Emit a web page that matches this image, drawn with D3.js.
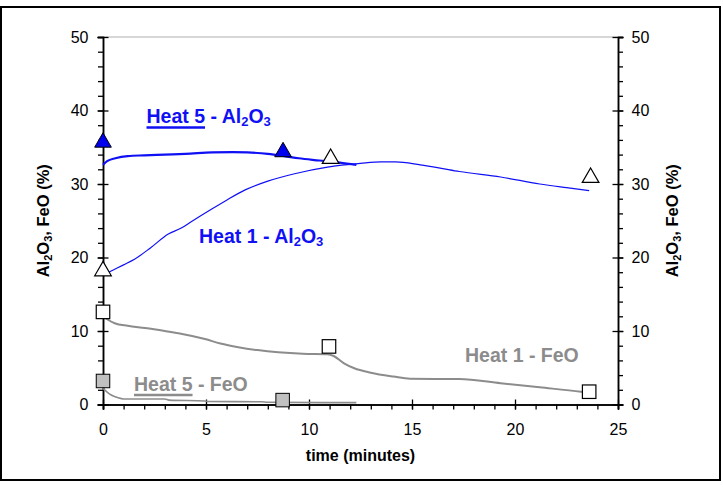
<!DOCTYPE html>
<html>
<head>
<meta charset="utf-8">
<script src="https://cdn.jsdelivr.net/npm/d3@7"></script>
<style>
  body { margin: 0; background: #fff; }
  text { font-family: "Liberation Sans", Arial, sans-serif; }
</style>
</head>
<body>
<div id="graph"></div>
<script>
// tick values
var xTicks = [0, 5, 10, 15, 20, 25];
var yTicks = [0, 10, 20, 30, 40, 50];

// measured curves [time (min), %]
var heat5Al2O3Line = [[0, 32.6], [0.2, 33.1], [0.6, 33.5], [1.2, 33.8], [2, 33.9], [3, 34.0], [4, 34.1],
  [5.3, 34.3], [6.3, 34.35], [7, 34.3], [8, 34.1], [8.8, 33.8], [9.5, 33.5], [10.5, 33.2], [11.5, 32.9], [12.3, 32.6]];
var heat1Al2O3Line = [[0, 17.6], [0.5, 18.3], [1.0, 19.0], [1.55, 19.8], [2.3, 21.3], [3.17, 23.2], [3.8, 24.0],
  [4.3, 24.9], [5.28, 26.6], [6, 27.8], [6.9, 29.2], [8, 30.4], [9.3, 31.4], [10.9, 32.3], [12.5, 32.8],
  [13.5, 33.0], [14.2, 33.0], [15.4, 32.6], [16.3, 32.2], [17.3, 31.7], [19.3, 30.95], [21.2, 30.0],
  [22.5, 29.5], [23.6, 29.1]];
var heat1FeOLine = [[0, 12.0], [0.2, 11.6], [0.57, 11.06], [1.2, 10.7], [2.04, 10.4], [3, 10.0], [3.66, 9.7],
  [4.95, 8.9], [5.7, 8.3], [6.57, 7.8], [7.5, 7.4], [8.5, 7.1], [9.7, 6.9], [10.9, 6.84], [11.2, 6.6],
  [11.7, 5.6], [12.2, 4.93], [13, 4.33], [14.1, 3.8], [14.9, 3.5], [17.3, 3.47], [19.3, 2.9], [21.2, 2.34],
  [23.2, 1.74], [23.6, 1.6]];
var heat5FeOLine = [[0, 2.2], [0.2, 1.7], [0.4, 1.3], [0.7, 0.95], [1, 0.75], [3, 0.75], [3.2, 0.6],
  [4.95, 0.48], [5.1, 0.4], [7.7, 0.38], [8, 0.3], [12.3, 0.25]];

// sample analyses
var heat5Al2O3Points = [[0, 35.8], [8.74, 34.5]];
var heat1Al2O3Points = [[0, 18.3], [11.05, 33.6], [23.67, 31.0]];
var heat1FeOPoints = [[0, 12.6], [10.97, 7.9], [23.6, 1.74]];
var heat5FeOPoints = [[0, 3.2], [8.72, 0.6]];

var w = 723, h = 487;
var blue = "#1010f5", gray = "#8c8c8c";

var vis = d3.select("#graph").append("svg")
  .attr("width", w)
  .attr("height", h);

// outer frame
vis.append("rect")
  .attr("x", 1).attr("y", 7)
  .attr("width", 719).attr("height", 473)
  .attr("fill", "none")
  .attr("stroke", "black")
  .attr("stroke-width", 2);

var x = d3.scaleLinear().domain([0, 25]).range([103, 618]);
var y = d3.scaleLinear().domain([0, 50]).range([404.5, 37]);

// top border of plot area
vis.append("line")
  .attr("x1", x(0)).attr("x2", x(25))
  .attr("y1", y(50)).attr("y2", y(50))
  .attr("stroke", "#b0b0b0").attr("stroke-width", 1.2);

var minorX = d3.range(0, 26, 1);
var minorY = d3.range(0, 51, 2);

function styleAxis(g) {
  g.select(".domain").attr("stroke", "black").attr("stroke-width", 1.5);
  g.selectAll(".tick line").attr("stroke", "black").attr("stroke-width", 1.3);
  g.selectAll("text").attr("font-size", "16px").attr("fill", "black")
    .attr("font-family", "'Liberation Sans', Arial, sans-serif");
}

// minor ticks (outside only)
vis.append("g").attr("transform", "translate(0," + y(0) + ")")
  .call(d3.axisBottom(x).tickValues(minorX).tickSize(5).tickFormat(""))
  .call(styleAxis);
vis.append("g").attr("transform", "translate(" + x(0) + ",0)")
  .call(d3.axisLeft(y).tickValues(minorY).tickSize(5).tickFormat(""))
  .call(styleAxis);
vis.append("g").attr("transform", "translate(" + x(25) + ",0)")
  .call(d3.axisRight(y).tickValues(minorY).tickSize(5).tickFormat(""))
  .call(styleAxis);

// major ticks crossing the axis
var xAxis = vis.append("g").attr("transform", "translate(0," + y(0) + ")")
  .call(d3.axisBottom(x).tickValues(xTicks).tickSize(5).tickPadding(14))
  .call(styleAxis);
xAxis.selectAll(".tick line").attr("y1", -5);

var yAxisL = vis.append("g").attr("transform", "translate(" + x(0) + ",0)")
  .call(d3.axisLeft(y).tickValues(yTicks).tickSize(5.5).tickPadding(9))
  .call(styleAxis);
yAxisL.selectAll(".tick line").attr("x1", 5.5);

var yAxisR = vis.append("g").attr("transform", "translate(" + x(25) + ",0)")
  .call(d3.axisRight(y).tickValues(yTicks).tickSize(5.5).tickPadding(8))
  .call(styleAxis);
yAxisR.selectAll(".tick line").attr("x1", -5.5);

// axis titles
vis.append("text")
  .attr("x", x(12.5)).attr("y", 461)
  .attr("text-anchor", "middle")
  .attr("font-size", "16px").attr("font-weight", "bold")
  .text("time (minutes)");

function yTitle(px) {
  var t = vis.append("text")
    .attr("transform", "translate(" + px + "," + y(25) + ") rotate(-90)")
    .attr("text-anchor", "middle")
    .attr("font-size", "16.5px").attr("font-weight", "bold");
  t.append("tspan").text("Al");
  t.append("tspan").attr("font-size", "11px").attr("dy", 3).text("2");
  t.append("tspan").attr("dy", -3).text("O");
  t.append("tspan").attr("font-size", "11px").attr("dy", 3).text("3");
  t.append("tspan").attr("dy", -3).text(", FeO (%)");
}
yTitle(48.5);
yTitle(677.5);

// curves
var line = d3.line()
  .curve(d3.curveMonotoneX)
  .x(function(d) { return x(d[0]); })
  .y(function(d) { return y(d[1]); });

vis.append("path").datum(heat1Al2O3Line)
  .attr("d", line).attr("fill", "none")
  .attr("stroke", blue).attr("stroke-width", 1.2);
vis.append("path").datum(heat5Al2O3Line)
  .attr("d", line).attr("fill", "none")
  .attr("stroke", blue).attr("stroke-width", 2.2);
vis.append("path").datum(heat1FeOLine)
  .attr("d", line).attr("fill", "none")
  .attr("stroke", gray).attr("stroke-width", 2);
vis.append("path").datum(heat5FeOLine)
  .attr("d", line).attr("fill", "none")
  .attr("stroke", gray).attr("stroke-width", 1.6);

// markers
var tri = d3.symbol().type(d3.symbolTriangle).size(120);

vis.selectAll(".tri5")
  .data(heat5Al2O3Points)
  .enter()
  .append("path")
  .attr("class", "tri5")
  .attr("d", tri)
  .attr("transform", function(d) { return "translate(" + x(d[0]) + "," + (y(d[1]) + 1) + ")"; })
  .attr("fill", "#0000ee").attr("stroke", "black").attr("stroke-width", 1);

vis.selectAll(".tri1")
  .data(heat1Al2O3Points)
  .enter()
  .append("path")
  .attr("class", "tri1")
  .attr("d", tri)
  .attr("transform", function(d) { return "translate(" + x(d[0]) + "," + (y(d[1]) + 1) + ")"; })
  .attr("fill", "white").attr("stroke", "black").attr("stroke-width", 1.2);

var sq = 13.5;
vis.selectAll(".sq1")
  .data(heat1FeOPoints)
  .enter()
  .append("rect")
  .attr("class", "sq1")
  .attr("x", function(d) { return x(d[0]) - sq / 2; })
  .attr("y", function(d) { return y(d[1]) - sq / 2; })
  .attr("width", sq).attr("height", sq)
  .attr("fill", "white").attr("stroke", "black").attr("stroke-width", 1.2);

vis.selectAll(".sq5")
  .data(heat5FeOPoints)
  .enter()
  .append("rect")
  .attr("class", "sq5")
  .attr("x", function(d) { return x(d[0]) - sq / 2; })
  .attr("y", function(d) { return y(d[1]) - sq / 2; })
  .attr("width", sq).attr("height", sq)
  .attr("fill", "#c0c0c0").attr("stroke", "black").attr("stroke-width", 1);

// series labels
function label(px, py, color, name, rest, sub, underline, uw) {
  var t = vis.append("text")
    .attr("x", px).attr("y", py)
    .attr("font-size", "19.5px").attr("font-weight", "bold")
    .attr("fill", color);
  t.append("tspan").text(name);
  if (sub) {
    t.append("tspan").text(" - Al");
    t.append("tspan").attr("font-size", "13px").attr("dy", 3).text("2");
    t.append("tspan").attr("dy", -3).text("O");
    t.append("tspan").attr("font-size", "13px").attr("dy", 3).text("3");
  } else {
    t.append("tspan").text(rest);
  }
  if (underline) {
    var bw = t.select("tspan").node().getComputedTextLength();
    vis.append("line")
      .attr("x1", px).attr("x2", px + bw)
      .attr("y1", py + 4.5).attr("y2", py + 4.5)
      .attr("stroke", color).attr("stroke-width", uw);
  }
}
label(146.5, 123, blue, "Heat 5", "", true, true, 2.5);
label(199, 242.5, blue, "Heat 1", "", true, false, 0);
label(134, 390.5, gray, "Heat 5", " - FeO", false, true, 2.5);
label(465, 361.5, gray, "Heat 1", " - FeO", false, false, 0);
</script>
</body>
</html>
